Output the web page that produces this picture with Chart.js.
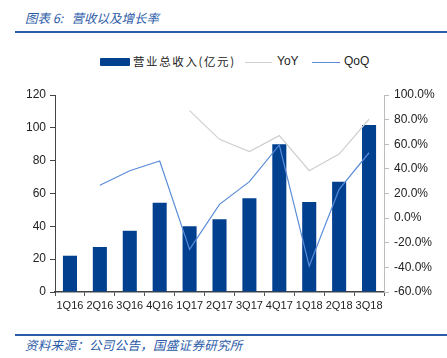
<!DOCTYPE html>
<html>
<head>
<meta charset="utf-8">
<script src="https://cdn.jsdelivr.net/npm/chart.js@4.4.1/dist/chart.umd.min.js"></script>
<style>
  body { margin: 0; background: #fff; }
  #wrap { position: relative; width: 447px; height: 358px; overflow: hidden; font-family: "Noto Sans CJK SC", sans-serif; }
  .title { position: absolute; left: 25px; top: 8px; font-size: 12.5px; font-style: italic; color: #2C5BA8; }
  .rule { position: absolute; left: 15px; right: 0; height: 2px; background: #2C5BA8; }
  .src { position: absolute; left: 25px; top: 335px; font-size: 12.5px; font-style: italic; color: #2C5BA8; letter-spacing: 0.3px; }
  #legend { position: absolute; top: 53px; left: 100px; height: 18px; font-size: 11.5px; color: #222; }
  #legend .sw { position: absolute; }
  #legend .lb { position: absolute; top: 0; white-space: nowrap; }
  #cv { position: absolute; left: 0; top: 80px; }
</style>
</head>
<body>
<div id="wrap">
  <div class="title">图表 6:&nbsp;&nbsp; 营收以及增长率</div>
  <div class="rule" style="top:31px"></div>
  <div id="legend">
    <span class="sw" style="left:0;top:5px;width:30px;height:8px;background:#00408F;border-radius:1px"></span>
    <span class="lb" style="left:33px;letter-spacing:1.6px">营业总收入(亿元)</span>
    <span class="sw" style="left:145px;top:9px;width:27px;height:1px;background:#CFCFCF"></span>
    <span class="lb" style="left:177px;font-family:'Liberation Sans';font-size:12px;top:1px">YoY</span>
    <span class="sw" style="left:212px;top:9px;width:28px;height:1px;background:#5B8CD8"></span>
    <span class="lb" style="left:244px;font-family:'Liberation Sans';font-size:12px;top:1px">QoQ</span>
  </div>
  <canvas id="cv" width="447" height="240"></canvas>
  <div class="rule" style="top:334px;height:1.5px"></div>
  <div class="src">资料来源：公司公告，国盛证券研究所</div>
</div>
<script>
/* 营收以及增长率 — quarterly revenue with YoY / QoQ */
var QUARTERS = ['1Q16', '2Q16', '3Q16', '4Q16', '1Q17', '2Q17', '3Q17', '4Q17', '1Q18', '2Q18', '3Q18'];
var REVENUE = [22.1, 27.4, 37.3, 54.4, 40.0, 44.3, 57.1, 90.0, 54.8, 67.2, 101.7];
var YOY = [null, null, null, null, 87.3, 64.0, 54.0, 67.0, 38.5, 52.0, 80.3];
var QOQ = [null, 26.7, 38.5, 46.4, -25.4, 11.2, 29.6, 59.4, -38.9, 23.4, 53.1];
var LEFT_TICKS = [0, 20, 40, 60, 80, 100, 120];

var FONT = "'Liberation Sans', sans-serif";
var TXT = '#222';

new Chart(document.getElementById('cv'), {
  type: 'bar',
  data: {
    labels: QUARTERS,
    datasets: [
      { label: 'YoY', type: 'line', data: YOY, yAxisID: 'y1', borderColor: '#CFCFCF', borderWidth: 1.2, pointRadius: 0, tension: 0, order: 1 },
      { label: 'QoQ', type: 'line', data: QOQ, yAxisID: 'y1', borderColor: '#5B8CD8', borderWidth: 1.2, pointRadius: 0, tension: 0, order: 0 },
      { label: '营业总收入(亿元)', data: REVENUE, yAxisID: 'y', backgroundColor: '#00408F', barPercentage: 0.47, categoryPercentage: 1, order: 2 }
    ]
  },
  options: {
    responsive: false, animation: false,
    layout: { padding: { top: 15, left: 0, right: 0, bottom: 0 } },
    plugins: { legend: { display: false }, tooltip: { enabled: false } },
    scales: {
      x: {
        grid: { drawOnChartArea: false, offset: true, tickLength: 4, color: '#555' },
        border: { color: '#444', width: 1.5 },
        ticks: { color: TXT, font: { family: FONT, size: 11 }, maxRotation: 0, autoSkip: false, padding: 3 },
        afterFit: function(s) { s.height = 240 - 15 - 197; }
      },
      y: {
        position: 'left', min: 0, max: 120,
        afterBuildTicks: function(s) { s.ticks = LEFT_TICKS.map(function(v) { return { value: v }; }); },
        grid: { drawOnChartArea: false, tickLength: 5, color: '#444' },
        border: { color: '#444' },
        ticks: { color: TXT, font: { family: FONT, size: 12 }, padding: 4 },
        afterFit: function(s) { s.width = 55; }
      },
      y1: {
        position: 'right', min: -60, max: 100,
        ticks: { stepSize: 20, color: TXT, font: { family: FONT, size: 12 }, padding: 5, callback: function(v) { return v.toFixed(1) + '%'; } },
        grid: { drawOnChartArea: false, tickLength: 5, color: '#BBB' },
        border: { color: '#BBB' },
        afterFit: function(s) { s.width = 447 - 384; }
      }
    }
  }
});
</script>
</body>
</html>
